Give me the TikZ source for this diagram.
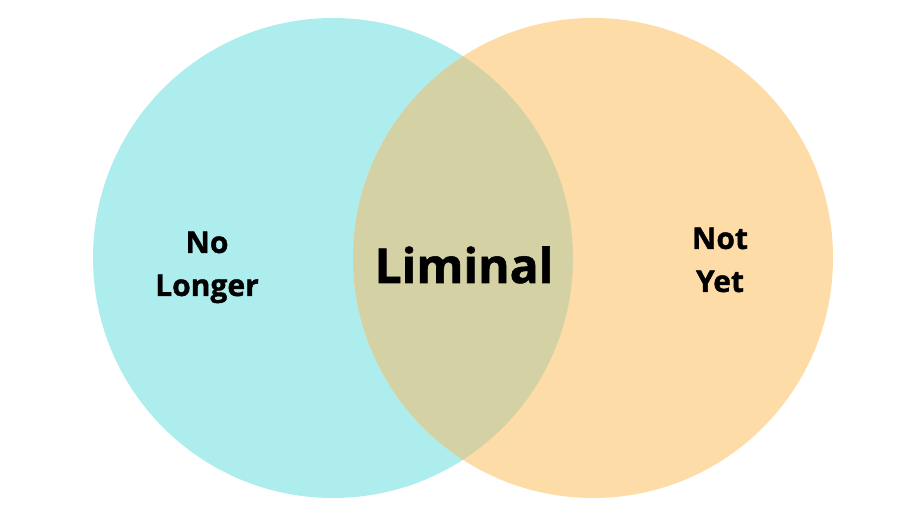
\documentclass[tikz,border=0pt]{standalone}
\usepackage{fontspec}
\setmainfont{Open Sans}[BoldFeatures={FakeBold=1.2}]
\usepackage{xcolor}
\definecolor{light_cyan}{RGB}{173,237,238}
\definecolor{light_orange}{RGB}{254,220,168}
\definecolor{olive_mix}{RGB}{212,210,164}
\usepackage{tikz}

\begin{document}
\begin{tikzpicture}[x=1pt, y=1pt]
\useasboundingbox (0, 0) rectangle (920, 518);

\fill [light_cyan] (333, 260) circle (240);
\fill [light_orange] (593, 260) circle (240);
\begin{scope}
\clip (333, 260) circle (240);
\fill [olive_mix] (593, 260) circle (240);
\end{scope}

\node (no_longer) [anchor = base, align = center, font = \fontsize{30}{43}\selectfont\bfseries] at (207, 222) {No\\Longer};
\node (liminal) [anchor = base, font = \fontsize{48}{55}\selectfont\bfseries] at (464, 235) {Liminal};
\node (not_yet) [anchor = base, align = center, font = \fontsize{30}{43}\selectfont\bfseries] at (720, 226) {Not\\Yet};

\end{tikzpicture}
\end{document}
